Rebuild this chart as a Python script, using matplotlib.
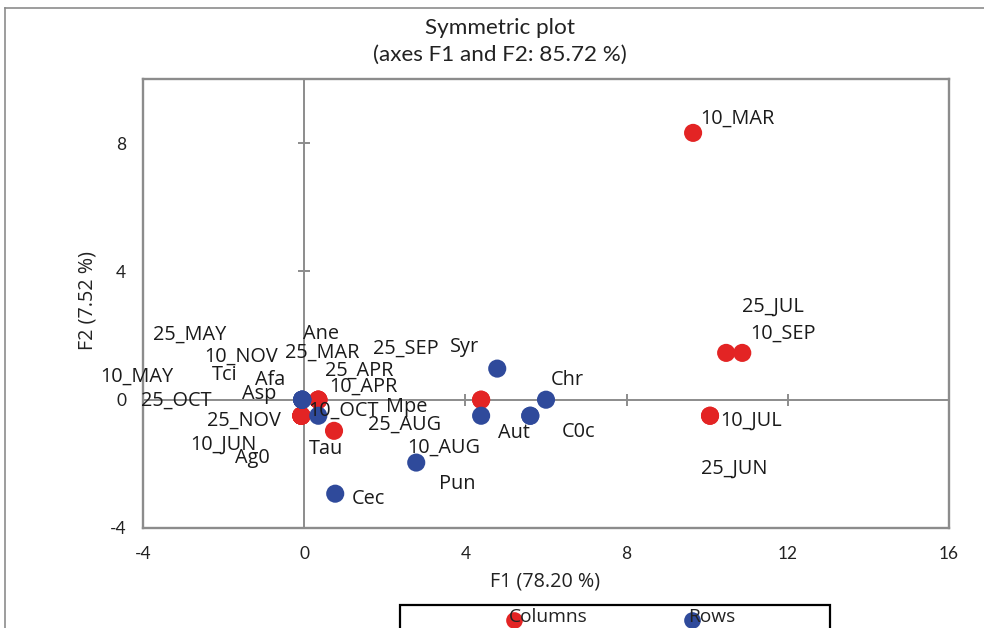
import matplotlib
matplotlib.use("Agg")
import matplotlib.pyplot as plt
from matplotlib.patches import Rectangle
from matplotlib.lines import Line2D

# ---------------- data ----------------
col_labels = ["10_MAR", "25_MAR", "10_APR", "25_APR", "10_MAY", "25_MAY", "10_JUN",
              "25_JUN", "10_JUL", "25_JUL", "10_AUG", "25_AUG", "10_SEP", "25_SEP",
              "10_OCT", "25_OCT", "10_NOV", "25_NOV"]
col_f1 = [9.65, 0.35, 0.35, 0.35, -0.07, -0.07, -0.07,
          10.07, 10.07, 10.47, 0.74, 4.39, 10.87, 4.39,
          0.35, -0.07, -0.07, -0.07]
col_f2 = [8.32, 0.0, 0.0, 0.0, -0.5, -0.5, -0.5,
          -0.5, -0.5, 1.46, -0.97, 0.0, 1.46, 0.0,
          0.0, -0.5, -0.5, -0.5]

row_labels = ["Ane", "Tci", "Afa", "Asp", "Ag0", "Tau", "Cec", "Syr", "Chr",
              "Mpe", "Aut", "C0c", "Pun"]
row_f1 = [-0.05, -0.05, -0.05, -0.05, -0.05, 0.35, 0.77, 4.79, 6.0,
          4.39, 5.61, 5.61, 2.78]
row_f2 = [0.0, 0.0, 0.0, 0.0, 0.0, -0.5, -2.93, 0.97, 0.0,
          -0.5, -0.5, -0.5, -1.96]

x_ticks = [-4, 0, 4, 8, 12, 16]
y_ticks = [-4, 0, 4, 8]

# label placement (left edge x, centre y, in data units) - layout only
col_label_pos = [(9.83, 8.85), (-0.47, 1.53), (0.62, 0.47), (0.52, 0.97), (-5.06, 0.81),
                 (-3.75, 2.09), (-2.83, -1.31), (9.85, -2.06), (10.32, -0.59),
                 (10.87, 2.99), (2.56, -1.43), (1.59, -0.69), (11.07, 2.15),
                 (1.71, 1.68), (0.10, -0.25), (-4.04, 0.06), (-2.48, 1.43),
                 (-2.41, -0.59)]
row_label_pos = [(-0.02, 2.12), (-2.28, 0.84), (-1.22, 0.69), (-1.54, 0.25),
                 (-1.71, -1.74), (0.12, -1.46), (1.17, -3.02), (3.62, 1.71),
                 (6.13, 0.69), (2.03, -0.16), (4.81, -0.97), (6.38, -0.93),
                 (3.35, -2.55)]

RED = "#E32424"
BLUE = "#2F4A9B"
GRAY = "#8C8C8C"
W, H = 984, 628

fig = plt.figure(figsize=(W / 100, H / 100), dpi=100)


def fx(px):
    return px / W


def fy(py):
    return 1 - py / H


# outer chart frame (partly cropped)
fig.add_artist(Line2D([fx(5), fx(990)], [fy(8), fy(8)], color=GRAY, lw=1.2))
fig.add_artist(Line2D([fx(5), fx(5)], [fy(8), fy(640)], color=GRAY, lw=1.2))

ax = fig.add_axes([fx(143), fy(528), fx(949) - fx(143), fy(79) - fy(528)])
ax.set_xlim(-4, 16)
ax.set_ylim(-4, 10)
for s in ax.spines.values():
    s.set_color(GRAY)
    s.set_linewidth(1.7)

ax.set_xticks(x_ticks)
ax.set_yticks(y_ticks)
ax.set_xticklabels([str(v) for v in x_ticks])
ax.set_yticklabels([str(v) for v in y_ticks])
ax.tick_params(length=0, labelsize=12.5, colors="#222222")
ax.tick_params(axis="x", pad=13)
ax.tick_params(axis="y", pad=12)
for t in ax.get_xticklabels() + ax.get_yticklabels():
    t.set_fontfamily("Lato")

# zero lines with cross ticks
ax.axhline(0, color=GRAY, lw=1.4, zorder=1)
ax.axvline(0, color=GRAY, lw=1.4, zorder=1)
ax.plot([v for v in x_ticks if v not in (-4, 0, 16)], [0] * 3, ls="none",
        marker="|", markersize=9, mew=1.4, color=GRAY, zorder=1)
ax.plot([0] * 2, [v for v in y_ticks if v > 0], ls="none",
        marker="_", markersize=9, mew=1.4, color=GRAY, zorder=1)

ax.scatter(col_f1, col_f2, s=170, color=RED, edgecolors="none", zorder=3)
ax.scatter(row_f1, row_f2, s=170, color=BLUE, edgecolors="none", zorder=3)

lab_kw = dict(fontsize=14.3, family="Open Sans", color="#1a1a1a",
              ha="left", va="center_baseline", clip_on=False, zorder=4)
for name, (lx, ly) in zip(col_labels, col_label_pos):
    ax.text(lx, ly, name, **lab_kw)
for name, (lx, ly) in zip(row_labels, row_label_pos):
    ax.text(lx, ly, name, **lab_kw)

# titles and axis titles
fig.text(fx(500), fy(28), "Symmetric plot", ha="center", va="center",
         fontsize=16.2, family="Lato", color="#222222")
fig.text(fx(500), fy(55), "(axes F1 and F2: 85.72 %)", ha="center", va="center",
         fontsize=16.2, family="Lato", color="#222222")
fig.text(fx(545), fy(582), "F1 (78.20 %)", ha="center", va="center",
         fontsize=14.2, family="Open Sans", color="#222222")
fig.text(fx(88), fy(300), "F2 (7.52 %)", ha="center", va="center", rotation=90,
         fontsize=14.2, family="Open Sans", color="#222222")

# legend box (cropped at bottom)
fig.add_artist(Rectangle((fx(400), fy(650)), fx(830) - fx(400), fy(605) - fy(650),
                         fill=False, edgecolor="black", lw=1.6))
fig.add_artist(Line2D([fx(514)], [fy(620)], marker="o", markersize=12,
                      color=RED, mec="none", ls="none"))
fig.add_artist(Line2D([fx(692)], [fy(620)], marker="o", markersize=12,
                      color=BLUE, mec="none", ls="none"))
fig.text(fx(509), fy(617), "Columns", ha="left", va="center",
         fontsize=13.8, family="Open Sans", color="#222222")
fig.text(fx(688), fy(617), "Rows", ha="left", va="center",
         fontsize=13.8, family="Open Sans", color="#222222")

fig.savefig("out.png", dpi=100)
